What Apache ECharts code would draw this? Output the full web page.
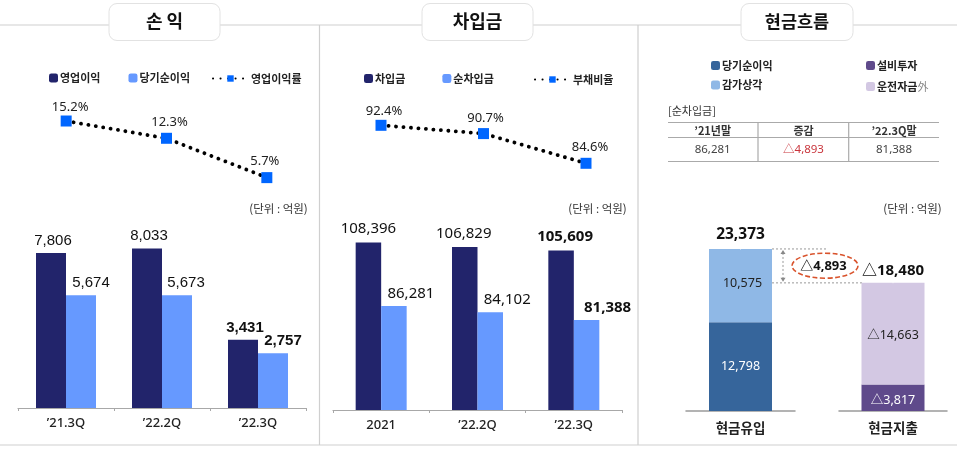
<!DOCTYPE html>
<html>
<head>
<meta charset="utf-8">
<style>
    html, body {margin: 0; background: #fff;}
    #chart {width: 960px; height: 449px;}
</style>
<script src="https://cdn.jsdelivr.net/npm/echarts@6/dist/echarts.min.js"></script>
</head>
<body>
<div id="chart"></div>
<script>
// 손익
const profitCats = ['’21.3Q', '’22.2Q', '’22.3Q']
const opProfit = [7806, 8033, 3431]
const netProfit = [5674, 5673, 2757]
const opMargin = [15.2, 12.3, 5.7]

// 차입금
const debtCats = ['2021', '’22.2Q', '’22.3Q']
const debt = [108396, 106829, 105609]
const netDebt = [86281, 84102, 81388]
const debtRatio = [92.4, 90.7, 84.6]

// 현금흐름
const inflowCats = ['현금유입']
const outflowCats = ['현금지출']
const cashNet = [12798]
const cashDep = [10575]
const cashIn = [23373]
const cashCapex = [3817]
const cashWork = [14663]
const cashOut = [18480]
const cashGap = 4893

const tableHead = ['’21년말', '증감', '’22.3Q말']
const tableRow = ['86,281', '△4,893', '81,388']

const NAVY = '#22246b'
const SKY = '#6699ff'
const BLUE = '#0066ff'
const TXT = '#222'
const LINE = '#cfcfcf'
const KR = '"Noto Sans CJK KR"'
const NS = '"Noto Sans", "Noto Sans CJK KR"'
const AR = '"Liberation Sans"'

let fmt = v => v.toLocaleString('en-US')
let fmtTri = p => '△' + fmt(p.value)

// подписи столбцов сдвинуты вбок, как в оригинале
function barItems(values, shifts, bold) {
    return values.map((v, i) => ({
        value: v,
        label: {offset: shifts[i], fontWeight: bold === i ? 'bold' : 'normal'},
    }))
}

function lineItems(values, shifts) {
    return values.map((v, i) => ({value: v, label: {offset: shifts[i]}}))
}

function lineSeries(name, values, axis, shifts) {
    return {
        name: name,
        type: 'line',
        xAxisIndex: axis,
        yAxisIndex: axis,
        data: lineItems(values, shifts),
        symbol: 'rect',
        symbolSize: 11,
        itemStyle: {color: BLUE},
        lineStyle: {color: '#000', width: 3.8, type: [0.1, 7.4], cap: 'round'},
        label: {
            show: true, position: 'top', distance: 2, color: TXT,
            fontFamily: NS, fontSize: 13,
            formatter: p => p.value.toFixed(1) + '%',
        },
    }
}

function barSeries(name, color, items, axis, width, font, size, distance) {
    return {
        name: name,
        type: 'bar',
        xAxisIndex: axis,
        yAxisIndex: axis,
        barWidth: width,
        barGap: 0,
        data: items,
        itemStyle: {color: color},
        label: {
            show: true, position: 'top', distance: distance, color: '#111',
            fontFamily: font, fontSize: size,
            formatter: p => fmt(p.value),
        },
    }
}

function stackSeries(name, stack, color, values, axis, labelColor, tri, shift) {
    return {
        name: name,
        type: 'bar',
        stack: stack,
        xAxisIndex: axis,
        yAxisIndex: axis,
        barWidth: 63,
        data: values,
        itemStyle: {color: color},
        label: {
            show: true, position: 'inside', color: labelColor, offset: shift,
            fontFamily: NS, fontSize: 12.5,
            formatter: tri ? fmtTri : p => fmt(p.value),
        },
    }
}

function totalSeries(values, axis, tri, size, distance) {
    return {
        name: '합계',
        type: 'line',
        xAxisIndex: axis,
        yAxisIndex: axis,
        data: values,
        symbolSize: 1,
        itemStyle: {color: 'transparent'},
        label: {
            show: true, position: 'top', distance: distance, color: '#111',
            fontFamily: NS, fontSize: size, fontWeight: 'bold',
            formatter: tri ? fmtTri : p => fmt(p.value),
        },
    }
}

function hiddenCat(cats, grid) {
    return {type: 'category', gridIndex: grid, data: cats, show: false}
}

function barCat(cats, grid) {
    return {
        type: 'category', gridIndex: grid, data: cats,
        axisLine: {lineStyle: {color: '#a8a8a8', width: 1.2}},
        axisTick: {show: true, length: 3, lineStyle: {color: '#a8a8a8'}},
        axisLabel: {color: TXT, fontFamily: NS, fontSize: 13, fontWeight: 500, margin: 9},
    }
}

function cashCat(cats, grid) {
    return {
        type: 'category', gridIndex: grid, data: cats,
        axisLine: {lineStyle: {color: '#9a9a9a', width: 1.5}},
        axisTick: {show: false},
        axisLabel: {color: TXT, fontFamily: KR, fontSize: 13.5, fontWeight: 'bold', margin: 10},
    }
}

function valueAxis(grid, min, max) {
    return {type: 'value', gridIndex: grid, min: min, max: max, show: false}
}

function barLegend(names, left, top, extra) {
    return Object.assign({
        data: names,
        left: left,
        top: top,
        padding: 0,
        itemWidth: 9,
        itemHeight: 9,
        itemGap: 28,
        selectedMode: false,
        textStyle: {color: TXT, fontFamily: KR, fontSize: 11, fontWeight: 'bold', padding: [0, 0, 0, -3]},
    }, extra)
}

function lineLegend(name, left, top) {
    return {
        data: [name],
        left: left,
        top: top,
        padding: 0,
        itemWidth: 35,
        itemHeight: 8,
        selectedMode: false,
        textStyle: {color: TXT, fontFamily: KR, fontSize: 11, fontWeight: 'bold', padding: [0, 0, 0, -2]},
    }
}

function text(str, x, y, size, opts) {
    return {
        type: 'text',
        z: 10,
        style: Object.assign({
            text: str, x: x, y: y, fill: TXT,
            fontFamily: KR, fontSize: size,
            textAlign: 'center', textVerticalAlign: 'middle',
        }, opts || {}),
    }
}

function rule(x1, y1, x2, y2, color, width, dash) {
    return {
        type: 'line',
        z: 1,
        shape: {x1: x1, y1: y1, x2: x2, y2: y2},
        style: {stroke: color, lineWidth: width, lineDash: dash || null},
    }
}

function titleBox(label, x, width, size) {
    return [
        {
            type: 'rect',
            z: 2,
            shape: {x: x, y: 3.5, width: width, height: 37, r: 8},
            style: {fill: '#fff', stroke: '#e2e2e2', lineWidth: 1},
        },
        text(label, x + width / 2, 21, size, {fontWeight: 'bold', fill: '#111'}),
    ]
}

let frame = [
    rule(0, 25, 957, 25, LINE, 1.2),
    rule(319.5, 25, 319.5, 445, LINE, 1.2),
    rule(638, 25, 638, 445, LINE, 1.2),
    rule(0, 445, 957, 445, LINE, 1.2),
]

let tableX = [712.7, 803.5, 894]
let tableParts = [
    text('[순차입금]', 668, 110.5, 11, {textAlign: 'left', fill: '#333'}),
    rule(668, 122.5, 939, 122.5, '#aaa', 1.2),
    rule(668, 137.5, 939, 137.5, '#aaa', 1.2),
    rule(668, 161.5, 939, 161.5, '#aaa', 1.2),
    rule(758, 122.5, 758, 161.5, '#aaa', 1.2),
    rule(848.7, 122.5, 848.7, 161.5, '#aaa', 1.2),
]
tableHead.forEach((t, i) => {
    tableParts.push(text(t, tableX[i], 130.5, 11, {fontWeight: 'bold', fill: '#333'}))
})
tableRow.forEach((t, i) => {
    tableParts.push(text(t, tableX[i], 150, 11.5, {
        fontFamily: NS, fill: i === 1 ? '#c9353c' : '#444',
    }))
})

let chart = echarts.init(document.getElementById('chart'), null, {renderer: 'canvas'})

chart.setOption({
    animation: false,
    backgroundColor: '#fff',
    grid: [
        {left: 16, width: 301, top: 92.4, height: 119.2},
        {left: 18, width: 288, top: 209.4, height: 198.6},
        {left: 329.75, width: 307.5, top: 88.3, height: 146.1},
        {left: 333, width: 289, top: 209.3, height: 200.7},
        {left: 686, width: 109, top: 203, height: 208},
        {left: 839, width: 108, top: 203, height: 208},
    ],
    xAxis: [
        hiddenCat(profitCats, 0),
        barCat(profitCats, 1),
        hiddenCat(debtCats, 2),
        barCat(debtCats, 3),
        cashCat(inflowCats, 4),
        cashCat(outflowCats, 5),
    ],
    yAxis: [
        valueAxis(0, 0, 20),
        valueAxis(1, 0, 10000),
        valueAxis(2, 70, 100),
        valueAxis(3, 50000, 120000),
        valueAxis(4, 0, 30000),
        valueAxis(5, 0, 30000),
    ],
    legend: [
        barLegend(['영업이익', '당기순이익'], 49, 72.5),
        lineLegend('영업이익률', 212, 73),
        barLegend(['차입금', '순차입금'], 364, 73, {itemGap: 37}),
        lineLegend('부채비율', 534, 74),
        barLegend([
            {name: '당기순이익', itemStyle: {color: '#36659b'}},
            {name: '감가상각'},
        ], 711, 60, {orient: 'vertical', itemGap: 8.5}),
        barLegend(['설비투자', '운전자금外'], 866, 60, {
            orient: 'vertical',
            itemGap: 10,
            formatter: n => n === '운전자금外' ? '{a|운전자금}{b|外}' : n,
            textStyle: {
                color: TXT, fontFamily: KR, fontSize: 11, fontWeight: 'bold', padding: [0, 0, 0, -3],
                rich: {
                    a: {color: TXT, fontFamily: KR, fontSize: 11, fontWeight: 'bold'},
                    b: {color: '#888', fontFamily: KR, fontSize: 11, fontWeight: 'normal'},
                },
            },
        }),
    ],
    series: [
        lineSeries('영업이익률', opMargin, 0, [[4, 0], [3, -2], [-2, -2]]),
        barSeries('영업이익', NAVY, barItems(opProfit, [[2, 0], [2, 0], [2, 0]], 2), 1, 30, AR, 15, 5),
        barSeries('당기순이익', SKY, barItems(netProfit, [[10, 0], [9, 0], [10, 0]], 2), 1, 30, AR, 15, 5),

        lineSeries('부채비율', debtRatio, 2, [[3, 0], [2, -1], [4, -2]]),
        barSeries('차입금', NAVY, barItems(debt, [[0, 0], [-1, 0], [4, 0]], 2), 3, 25.5, NS, 15, 6),
        barSeries('순차입금', SKY, barItems(netDebt, [[17, 1], [17, 1], [21, 1]], 2), 3, 25.5, NS, 15, 6),

        stackSeries('당기순이익', 'in', '#36659b', cashNet, 4, '#fff', false, [0, 0]),
        stackSeries('감가상각', 'in', '#8fb8e6', cashDep, 4, '#222', false, [2, -2]),
        totalSeries(cashIn, 4, false, 15.5, 5),

        stackSeries('설비투자', 'out', '#5f4a8b', cashCapex, 5, '#fff', true, [0, 3]),
        stackSeries('운전자금外', 'out', '#d3c8e3', cashWork, 5, '#222', true, [0, 2]),
        totalSeries(cashOut, 5, true, 15, 3),
    ],
})

// пунктиры и стрелка разницы привязаны к шкале столбцов
let yIn = chart.convertToPixel({yAxisIndex: 4}, cashIn[0])
let yOut = chart.convertToPixel({yAxisIndex: 5}, cashOut[0])
let arrowX = 783

chart.setOption({
    graphic: {
        elements: [
            ...frame,
            ...titleBox('손 익', 109, 111, 18),
            ...titleBox('차입금', 422, 111, 18),
            ...titleBox('현금흐름', 741, 112, 17.5),
            text('(단위 : 억원)', 307.7, 209, 11.5, {textAlign: 'right', fill: '#333'}),
            text('(단위 : 억원)', 626.7, 209, 11.5, {textAlign: 'right', fill: '#333'}),
            text('(단위 : 억원)', 941.7, 209, 11.5, {textAlign: 'right', fill: '#333'}),
            ...tableParts,
            rule(772, yIn, 827, yIn, '#999', 1, [2, 2]),
            rule(772, yOut, 862, yOut, '#999', 1, [2, 2]),
            rule(arrowX, yIn + 4, arrowX, yOut - 4, '#999', 1, [2, 2]),
            {
                type: 'polygon', z: 3,
                shape: {points: [[arrowX - 2.5, yIn + 5], [arrowX + 2.5, yIn + 5], [arrowX, yIn + 1]]},
                style: {fill: '#888'},
            },
            {
                type: 'polygon', z: 3,
                shape: {points: [[arrowX - 2.5, yOut - 5], [arrowX + 2.5, yOut - 5], [arrowX, yOut - 1]]},
                style: {fill: '#888'},
            },
            {
                type: 'ellipse', z: 3,
                shape: {cx: 825, cy: 265.7, rx: 33, ry: 12.5},
                style: {fill: '#fff', stroke: '#d9532c', lineWidth: 1.6, lineDash: [5, 2.5]},
            },
            text('△' + fmt(cashGap), 823.5, 266, 13, {fontFamily: NS, fontWeight: 'bold', fill: '#111'}),
        ],
    },
})
</script>
</body>
</html>
